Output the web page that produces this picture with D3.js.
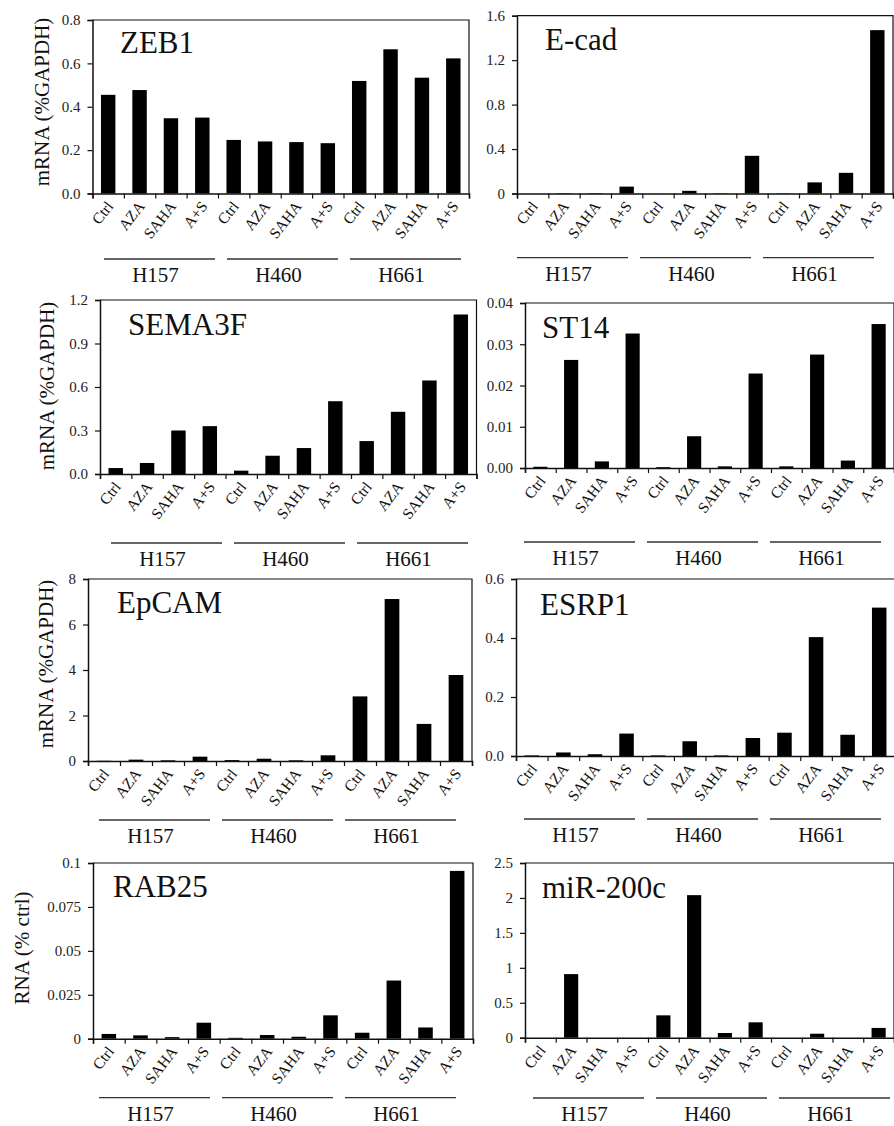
<!DOCTYPE html>
<html>
<head>
<meta charset="utf-8">
<script src="https://cdn.jsdelivr.net/npm/d3@7"></script>
<style>
  body { margin: 0; background: #fff; }
</style>
</head>
<body>
<div id="chart"></div>
<script>
// treatments and cell lines, same order in every panel
const treatments = ['Ctrl', 'AZA', 'SAHA', 'A+S'];
const cellLines = ['H157', 'H460', 'H661'];

// values (H157 x4, H460 x4, H661 x4)
const zeb1 = [0.455, 0.477, 0.347, 0.35, 0.247, 0.24, 0.237, 0.232, 0.519, 0.665, 0.534, 0.623];
const ecad = [0, 0.004, 0.004, 0.062, 0.001, 0.024, 0.003, 0.339, 0.003, 0.1, 0.186, 1.47];
const sema3f = [0.041, 0.076, 0.3, 0.33, 0.023, 0.126, 0.179, 0.502, 0.227, 0.429, 0.645, 1.1];
const st14 = [0.0003, 0.0262, 0.0016, 0.0326, 0.0002, 0.0077, 0.0004, 0.0229, 0.0004, 0.0275, 0.0018, 0.0349];
const epcam = [0.01, 0.06, 0.03, 0.19, 0.04, 0.1, 0.03, 0.25, 2.84, 7.12, 1.63, 3.78];
const esrp1 = [0.002, 0.012, 0.006, 0.076, 0.002, 0.05, 0.002, 0.061, 0.079, 0.403, 0.072, 0.503];
const rab25 = [0.0027, 0.0019, 0.0009, 0.0091, 0.0005, 0.0021, 0.0011, 0.0133, 0.0034, 0.0331, 0.0064, 0.0955];
const mir200c = [0, 0.91, 0, 0, 0.32, 2.04, 0.067, 0.22, 0, 0.057, 0, 0.14];

// y tick values and labels
const zeb1Ticks = [0, 0.2, 0.4, 0.6, 0.8];
const zeb1Labels = ['0.0', '0.2', '0.4', '0.6', '0.8'];
const ecadTicks = [0, 0.4, 0.8, 1.2, 1.6];
const ecadLabels = ['0', '0.4', '0.8', '1.2', '1.6'];
const sema3fTicks = [0, 0.3, 0.6, 0.9, 1.2];
const sema3fLabels = ['0.0', '0.3', '0.6', '0.9', '1.2'];
const st14Ticks = [0, 0.01, 0.02, 0.03, 0.04];
const st14Labels = ['0.00', '0.01', '0.02', '0.03', '0.04'];
const epcamTicks = [0, 2, 4, 6, 8];
const epcamLabels = ['0', '2', '4', '6', '8'];
const esrp1Ticks = [0, 0.2, 0.4, 0.6];
const esrp1Labels = ['0.0', '0.2', '0.4', '0.6'];
const rab25Ticks = [0, 0.025, 0.05, 0.075, 0.1];
const rab25Labels = ['0', '0.025', '0.05', '0.075', '0.1'];
const mirTicks = [0, 0.5, 1, 1.5, 2, 2.5];
const mirLabels = ['0', '0.5', '1', '1.5', '2', '2.5'];

const categories = [];
cellLines.forEach(c => treatments.forEach(t => categories.push(c + '|' + t)));

const FONT = "'Liberation Serif', 'DejaVu Serif', serif";

// panel placement on the page
const panels = [
  { title: 'ZEB1', values: zeb1, ticks: zeb1Ticks, labels: zeb1Labels, x0: 92.5, x1: 469, top: 20, zero: 193.5, titleX: 120, titleY: 53, lineX: 104, lineY: 259, ylab: 'mRNA (%GAPDH)', ylabX: 49, ylabY: 102 },
  { title: 'E-cad', values: ecad, ticks: ecadTicks, labels: ecadLabels, x0: 517, x1: 893, top: 15.7, zero: 193.5, titleX: 545, titleY: 50, lineX: 517, lineY: 257.7 },
  { title: 'SEMA3F', values: sema3f, ticks: sema3fTicks, labels: sema3fLabels, x0: 100, x1: 476.5, top: 300, zero: 474, titleX: 128, titleY: 335, lineX: 111, lineY: 543, ylab: 'mRNA (%GAPDH)', ylabX: 54, ylabY: 386 },
  { title: 'ST14', values: st14, ticks: st14Ticks, labels: st14Labels, x0: 525, x1: 894, top: 303, zero: 468, titleX: 542, titleY: 338, lineX: 524, lineY: 542 },
  { title: 'EpCAM', values: epcam, ticks: epcamTicks, labels: epcamLabels, x0: 88, x1: 472, top: 579, zero: 761, titleX: 117, titleY: 613, lineX: 99, lineY: 820, ylab: 'mRNA (%GAPDH)', ylabX: 53, ylabY: 664 },
  { title: 'ESRP1', values: esrp1, ticks: esrp1Ticks, labels: esrp1Labels, x0: 516, x1: 895, top: 579, zero: 756, titleX: 540, titleY: 615, lineX: 524, lineY: 819 },
  { title: 'RAB25', values: rab25, ticks: rab25Ticks, labels: rab25Labels, x0: 93, x1: 473, top: 863, zero: 1038.7, titleX: 113, titleY: 897, lineX: 99, lineY: 1097.7, ylab: 'RNA (% ctrl)', ylabX: 29, ylabY: 948 },
  { title: 'miR-200c', values: mir200c, ticks: mirTicks, labels: mirLabels, x0: 525, x1: 894, top: 863, zero: 1037.7, titleX: 542, titleY: 898, lineX: 533, lineY: 1098 }
];

const width = 894;
const height = 1126;

const svg = d3.select('#chart')
  .append('svg')
  .attr('width', width)
  .attr('height', height)
  .attr('font-family', FONT)
  .style('display', 'block');

svg.append('rect').attr('width', width).attr('height', height).attr('fill', '#fff');

function drawPanel(p) {
  const g = svg.append('g');

  const x = d3.scaleBand()
    .domain(categories)
    .range([p.x0, p.x1])
    .paddingInner(0.54)
    .paddingOuter(0.27);

  const y = d3.scaleLinear()
    .domain([0, d3.max(p.ticks)])
    .range([p.zero, p.top]);

  // boundaries between categories for the bottom tick marks
  const xb = d3.scaleLinear().domain([0, categories.length]).range([p.x0, p.x1]);

  // frame (top + right)
  g.append('path')
    .attr('d', `M${p.x0},${p.top}H${p.x1}V${p.zero}`)
    .attr('fill', 'none')
    .attr('stroke', '#111')
    .attr('stroke-width', 1.2);

  // bars
  g.selectAll('rect.bar')
    .data(p.values)
    .join('rect')
    .attr('class', 'bar')
    .attr('x', (d, i) => x(categories[i]))
    .attr('width', x.bandwidth())
    .attr('y', d => y(d))
    .attr('height', d => y(0) - y(d))
    .attr('fill', '#000');

  // y axis
  const yAxis = g.append('g')
    .attr('transform', `translate(${p.x0},0)`)
    .call(d3.axisLeft(y)
      .tickValues(p.ticks)
      .tickFormat((d, i) => p.labels[i])
      .tickSizeOuter(0)
      .tickSize(5)
      .tickPadding(7));
  yAxis.attr('font-family', FONT).attr('font-size', 15);
  yAxis.select('.domain').attr('stroke', '#111').attr('stroke-width', 1.5);
  yAxis.selectAll('.tick line').attr('stroke', '#111').attr('stroke-width', 1.2);
  yAxis.selectAll('.tick text').attr('fill', '#222');

  // x axis with ticks at category boundaries
  const xAxis = g.append('g')
    .attr('transform', `translate(0,${p.zero})`)
    .call(d3.axisBottom(xb)
      .tickValues(d3.range(categories.length + 1))
      .tickFormat('')
      .tickSizeOuter(0)
      .tickSize(5));
  xAxis.select('.domain').attr('stroke', '#111').attr('stroke-width', 1.5);
  xAxis.selectAll('.tick line').attr('stroke', '#111').attr('stroke-width', 1.2);

  // rotated treatment labels
  g.selectAll('text.cat')
    .data(categories)
    .join('text')
    .attr('class', 'cat')
    .attr('transform', d => `translate(${x(d) + x.bandwidth() / 2 + 6},${p.zero + 13}) rotate(-52)`)
    .attr('text-anchor', 'end')
    .attr('font-size', 15.5)
    .attr('fill', '#111')
    .text(d => d.split('|')[1]);

  // cell line group lines + labels
  const groups = g.selectAll('g.grp')
    .data(cellLines)
    .join('g')
    .attr('class', 'grp');

  groups.append('line')
    .attr('x1', (d, i) => p.lineX + i * 123)
    .attr('x2', (d, i) => p.lineX + i * 123 + 111)
    .attr('y1', p.lineY)
    .attr('y2', p.lineY)
    .attr('stroke', '#333')
    .attr('stroke-width', 1.3);

  groups.append('text')
    .attr('x', (d, i) => p.lineX + i * 123 + 51.5)
    .attr('y', p.lineY + 23)
    .attr('text-anchor', 'middle')
    .attr('font-size', 21)
    .attr('fill', '#111')
    .text(d => d);

  // panel title
  g.append('text')
    .attr('x', p.titleX)
    .attr('y', p.titleY)
    .attr('font-size', 31)
    .attr('fill', '#111')
    .text(p.title);

  // y axis title (left column only)
  if (p.ylab) {
    g.append('text')
      .attr('transform', `translate(${p.ylabX},${p.ylabY}) rotate(-90)`)
      .attr('text-anchor', 'middle')
      .attr('font-size', 21)
      .attr('fill', '#111')
      .text(p.ylab);
  }
}

panels.forEach(drawPanel);
</script>
</body>
</html>
